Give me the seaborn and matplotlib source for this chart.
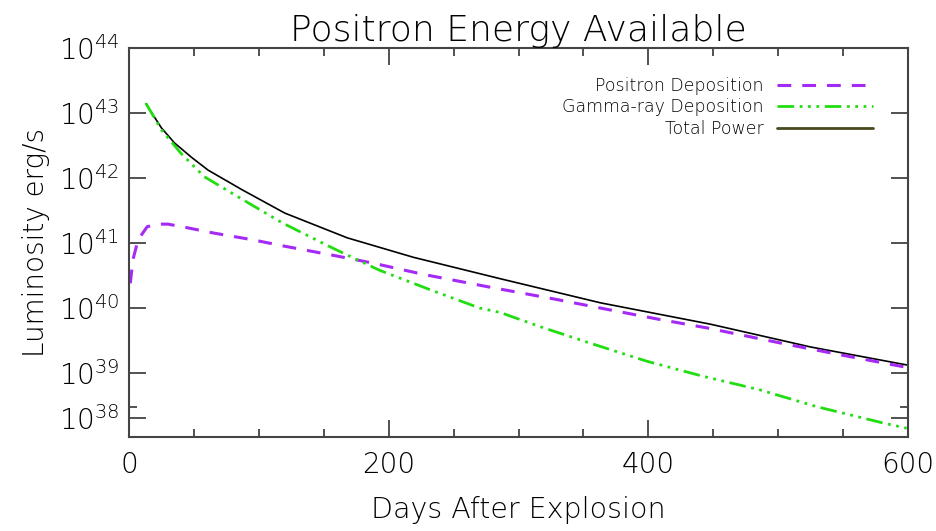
import numpy as np
import pandas as pd
import matplotlib
matplotlib.use("Agg")
import matplotlib.pyplot as plt
from matplotlib.lines import Line2D
from matplotlib.ticker import FixedLocator, NullFormatter
import seaborn as sns

# ---- data (day, log10 luminosity) ----
total_days = [13, 25, 35, 48, 61, 87, 120, 168, 219, 286, 363, 448, 525, 600]
total_log = [43.14, 42.77, 42.54, 42.32, 42.12, 41.82, 41.46, 41.08, 40.78, 40.45, 40.08, 39.75, 39.40, 39.12]

gamma_days = [13, 25, 40, 58, 84, 118, 155, 176, 193, 232, 270, 286, 317, 355, 399, 442, 486, 530, 581, 599]
gamma_log = [43.15, 42.74, 42.38, 42.02, 41.71, 41.31, 40.94, 40.74, 40.58, 40.28, 40.00, 39.93, 39.71, 39.46,
             39.18, 38.95, 38.74, 38.48, 38.23, 38.15]

pos_days = [1, 3, 7, 14, 22, 30, 41, 66, 95, 120, 160, 188, 226, 278, 327, 368, 407, 446, 502, 553, 598]
pos_log = [40.38, 40.74, 41.05, 41.25, 41.29, 41.29, 41.25, 41.15, 41.05, 40.95, 40.80, 40.69, 40.52, 40.32,
           40.14, 39.98, 39.83, 39.69, 39.46, 39.26, 39.09]

ytick_vals = [2e38, 1e39, 1e40, 1e41, 1e42, 1e43, 1e44]
ytick_labels = ["$10^{38}$", "$10^{39}$", "$10^{40}$", "$10^{41}$", "$10^{42}$", "$10^{43}$", "$10^{44}$"]
xtick_vals = [0, 200, 400, 600]

labels = ["Positron Deposition", "Gamma-ray Deposition", "Total Power"]

sns.set_style("white")
plt.rcParams["font.family"] = ["DejaVu Sans"]
plt.rcParams["font.weight"] = "light"
plt.rcParams["axes.titleweight"] = "light"
plt.rcParams["axes.labelweight"] = "light"
plt.rcParams["mathtext.fontset"] = "custom"
plt.rcParams["mathtext.rm"] = "DejaVu Sans:light"
plt.rcParams["mathtext.default"] = "rm"

df_pos = pd.DataFrame({"day": pos_days, "L": 10 ** np.array(pos_log)})
df_gam = pd.DataFrame({"day": gamma_days, "L": 10 ** np.array(gamma_log)})
df_tot = pd.DataFrame({"day": total_days, "L": 10 ** np.array(total_log)})

fig = plt.figure(figsize=(9.36, 5.31), dpi=100)
ax = fig.add_axes([129 / 936, 1 - 437 / 531, (908 - 129) / 936, (437 - 48) / 531])

purple = "#A52AF5"
green = "#22DD11"
txt = "#000000"
pos_dash = (4.5, 3.6)
gamma_dash = (6, 2, 1, 2, 1, 2, 1, 2)

sns.lineplot(data=df_tot, x="day", y="L", ax=ax, color="black", lw=1.2, sort=False)
sns.lineplot(data=df_pos, x="day", y="L", ax=ax, color=purple, lw=2.2, sort=False)
ax.lines[-1].set_dashes(pos_dash)
sns.lineplot(data=df_gam, x="day", y="L", ax=ax, color=green, lw=2.0, sort=False)
ax.lines[-1].set_dashes(gamma_dash)

ax.set_yscale("log")
ax.set_xlim(0, 600)
ax.set_ylim(10 ** 38.015, 1e44)

ax.set_yticks(ytick_vals)
ax.set_yticklabels(ytick_labels)
ax.yaxis.set_minor_locator(FixedLocator([3e38]))
ax.yaxis.set_minor_formatter(NullFormatter())
ax.set_xticks(xtick_vals)
ax.set_xticklabels([str(v) for v in xtick_vals])
ax.xaxis.set_minor_locator(FixedLocator(np.arange(50, 600, 50)))

ax.tick_params(which="both", direction="in", top=True, right=True, left=True, bottom=True,
               colors="#333333", labelcolor=txt, labelsize=20, width=1.2)
ax.tick_params(which="major", length=12)
ax.tick_params(axis="x", which="major", pad=10)
ax.tick_params(axis="y", which="major", pad=7)
ax.tick_params(which="minor", length=6)
for s in ax.spines.values():
    s.set_color("#444444")
    s.set_linewidth(1.5)

ax.set_xlabel("Days After Explosion", fontsize=20.5, color=txt, labelpad=12)
ax.set_ylabel("Luminosity erg/s", fontsize=20, color=txt, labelpad=6)
ax.set_title("Positron Energy Available", fontsize=26, color=txt, pad=5)

handles = [
    Line2D([], [], color=purple, lw=2.2, dashes=pos_dash),
    Line2D([], [], color=green, lw=2.0, dashes=gamma_dash),
    Line2D([], [], color="#4a4a1c", lw=2.0),
]
leg = ax.legend(handles, labels, loc="upper right", bbox_to_anchor=(0.975, 0.966), frameon=False,
                markerfirst=False, fontsize=12.5, handlelength=5.5, handletextpad=0.8,
                labelspacing=0.2)
for t in leg.get_texts():
    t.set_color(txt)

fig.savefig("out.png", dpi=100)
